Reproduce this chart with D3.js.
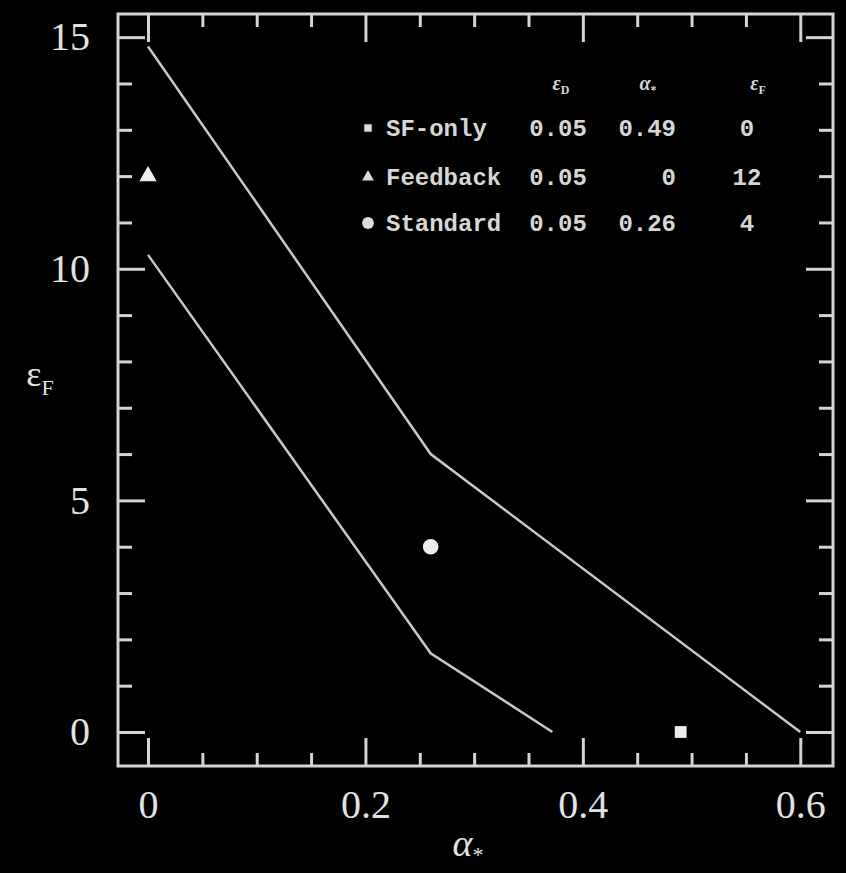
<!DOCTYPE html>
<html>
<head>
<meta charset="utf-8">
<script src="https://cdn.jsdelivr.net/npm/d3@7"></script>
<style>
  html, body { margin: 0; padding: 0; background: #000; }
  svg { display: block; }
</style>
</head>
<body>
<svg id="chart" width="846" height="873"></svg>
<script>
// ---- data ----
const models = ["SF-only", "Feedback", "Standard"];
const symbols = ["square", "triangle", "circle"];
const epsD = ["0.05", "0.05", "0.05"];
const alphaStar = [0.49, 0, 0.26];
const epsF = [0, 12, 4];
const alphaLabels = ["0.49", "0", "0.26"];
const epsFLabels = ["0", "12", "4"];

const upperX = [0, 0.26, 0.6];
const upperY = [14.8, 6.0, 0];
const lowerX = [0, 0.26, 0.372];
const lowerY = [10.3, 1.7, 0];

const xMajor = [0, 0.2, 0.4, 0.6];
const xMinor = [0.05, 0.1, 0.15, 0.25, 0.3, 0.35, 0.45, 0.5, 0.55];
const yMajor = [0, 5, 10, 15];
const yMinor = [1, 2, 3, 4, 6, 7, 8, 9, 11, 12, 13, 14];

// ---- layout ----
const L = 118, T = 14, R = 833, B = 766;
const fg = "#d4d4d4";
const svg = d3.select("#chart");
svg.append("rect").attr("width", 846).attr("height", 873).attr("fill", "#000");

const x = d3.scaleLinear().domain([-0.0276, 0.6301]).range([L, R]);
const y = d3.scaleLinear().domain([-0.734, 15.5]).range([B, T]);

function styleAxis(g) {
  g.select(".domain").remove();
  g.selectAll(".tick line").attr("stroke", fg).attr("stroke-width", 3);
  g.selectAll(".tick text").attr("fill", "#e2e2e2")
    .style("font-family", "'Liberation Serif', 'DejaVu Serif', serif")
    .style("font-size", "40px");
}

// bottom
svg.append("g").attr("transform", `translate(0,${B})`)
  .call(d3.axisBottom(x).tickValues(xMajor).tickSize(-28).tickPadding(24)
    .tickFormat(d => d === 0 ? "0" : d3.format(".1f")(d)))
  .call(styleAxis);
svg.append("g").attr("transform", `translate(0,${B})`)
  .call(d3.axisBottom(x).tickValues(xMinor).tickSize(-13).tickFormat(""))
  .call(styleAxis);
// top
svg.append("g").attr("transform", `translate(0,${T})`)
  .call(d3.axisTop(x).tickValues(xMajor).tickSize(-28).tickFormat(""))
  .call(styleAxis);
svg.append("g").attr("transform", `translate(0,${T})`)
  .call(d3.axisTop(x).tickValues(xMinor).tickSize(-13).tickFormat(""))
  .call(styleAxis);
// left
svg.append("g").attr("transform", `translate(${L},0)`)
  .call(d3.axisLeft(y).tickValues(yMajor).tickSize(-27).tickPadding(28).tickFormat(d3.format("d")))
  .call(styleAxis);
svg.append("g").attr("transform", `translate(${L},0)`)
  .call(d3.axisLeft(y).tickValues(yMinor).tickSize(-14).tickFormat(""))
  .call(styleAxis);
// right
svg.append("g").attr("transform", `translate(${R},0)`)
  .call(d3.axisRight(y).tickValues(yMajor).tickSize(-27).tickFormat(""))
  .call(styleAxis);
svg.append("g").attr("transform", `translate(${R},0)`)
  .call(d3.axisRight(y).tickValues(yMinor).tickSize(-14).tickFormat(""))
  .call(styleAxis);

// frame
svg.append("rect").attr("x", L).attr("y", T).attr("width", R - L).attr("height", B - T)
  .attr("fill", "none").attr("stroke", fg).attr("stroke-width", 3);

// curves
const line = d3.line().x(d => x(d[0])).y(d => y(d[1]));
svg.append("path").datum(d3.zip(upperX, upperY)).attr("d", line)
  .attr("fill", "none").attr("stroke", "#c8c8c8").attr("stroke-width", 2.5);
svg.append("path").datum(d3.zip(lowerX, lowerY)).attr("d", line)
  .attr("fill", "none").attr("stroke", "#c8c8c8").attr("stroke-width", 2.5);

// model points
const symType = { square: d3.symbolSquare, triangle: d3.symbolTriangle, circle: d3.symbolCircle };
const symSize = { square: 140, triangle: 130, circle: 190 };
svg.append("g").selectAll("path").data(models).join("path")
  .attr("transform", (d, i) => `translate(${x(alphaStar[i])},${y(epsF[i])})`)
  .attr("d", (d, i) => d3.symbol().type(symType[symbols[i]]).size(symSize[symbols[i]])())
  .attr("fill", "#eeeeee");

// legend table
const leg = svg.append("g");
const rowY = [128, 177, 223];
const monoFont = "'Liberation Mono', 'DejaVu Sans Mono', monospace";
const legSym = { square: 55, triangle: 60, circle: 110 };
leg.selectAll("path").data(models).join("path")
  .attr("transform", (d, i) => `translate(368,${rowY[i]})`)
  .attr("d", (d, i) => d3.symbol().type(symType[symbols[i]]).size(legSym[symbols[i]])())
  .attr("fill", "#dddddd");

function cell(txt, xx, yy, anchor) {
  leg.append("text").attr("x", xx).attr("y", yy + 8).attr("text-anchor", anchor)
    .attr("fill", "#d6d6d6").style("font-family", monoFont).style("font-weight", "bold")
    .style("font-size", "24px").text(txt);
}
models.forEach((m, i) => {
  cell(m, 386, rowY[i], "start");
  cell(epsD[i], 558, rowY[i], "middle");
  cell(alphaLabels[i], 676, rowY[i], "end");
  cell(epsFLabels[i], 747, rowY[i], "middle");
});

// headers
function header(sym, sub, cx) {
  const t = leg.append("text").attr("x", cx).attr("y", 90).attr("text-anchor", "middle")
    .attr("fill", "#d6d6d6").style("font-family", "'Liberation Serif', serif")
    .style("font-size", "20px").style("font-weight", "bold");
  t.append("tspan").text(sym).style("font-style", "italic");
  t.append("tspan").text(sub).attr("dy", 4).style("font-size", "12px");
}
header("ε", "D", 561);
header("α", "*", 648);
header("ε", "F", 758);

// axis titles
const xt = svg.append("text").attr("x", 468).attr("y", 856).attr("text-anchor", "middle")
  .attr("fill", "#e2e2e2").style("font-family", "'Liberation Serif', serif").style("font-size", "38px");
xt.append("tspan").text("α").style("font-style", "italic");
xt.append("tspan").text("*").attr("dy", 6).style("font-size", "22px");

const yt = svg.append("text").attr("x", 40).attr("y", 386).attr("text-anchor", "middle")
  .attr("fill", "#e2e2e2").style("font-family", "'Liberation Serif', serif").style("font-size", "36px");
yt.append("tspan").text("ε");
yt.append("tspan").text("F").attr("dy", 9).style("font-size", "22px");
</script>
</body>
</html>
